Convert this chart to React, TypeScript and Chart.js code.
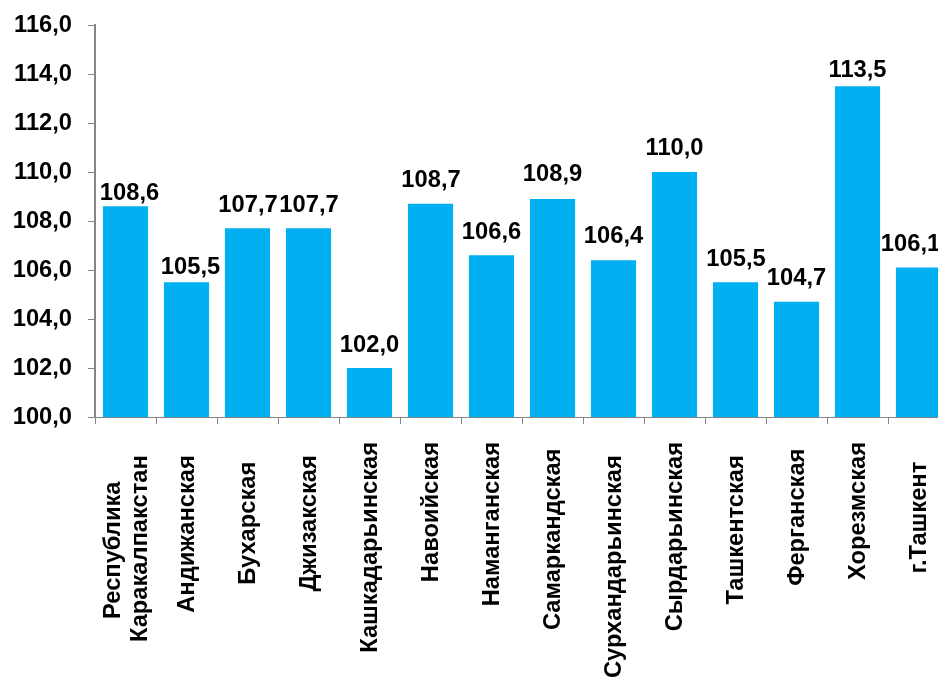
import React, { useEffect, useRef } from "react";
import { Chart, registerables } from "chart.js";

Chart.register(...registerables);

const categories: string[][] = [
  ["Республика", "Каракалпакстан"],
  ["Андижанская"],
  ["Бухарская"],
  ["Джизакская"],
  ["Кашкадарьинская"],
  ["Навоийская"],
  ["Наманганская"],
  ["Самаркандская"],
  ["Сурхандарьинская"],
  ["Сырдарьинская"],
  ["Ташкентская"],
  ["Ферганская"],
  ["Хорезмская"],
  ["г.Ташкент"],
];
const values = [108.6, 105.5, 107.7, 107.7, 102.0, 108.7, 106.6, 108.9, 106.4, 110.0, 105.5, 104.7, 113.5, 106.1];
// The source labels carry trailing blanks, which push them away from the axis.
const labelIndent = [2, 2, 3, 2, 0, 0, 0, 1, 2, 0, 2, 1, 0, 3];
// Hand placement of the value labels in the source: offset from the bar's centre, gap above the bar.
const valueLabelDx = [4, 4, 0.5, 0.5, 0, 0.5, 0, 0, 0, 0, 0.5, 0, 0, -8];
const valueLabelGap = [6, 8, 16.5, 16.5, 16.5, 16.5, 16.5, 17.5, 17.5, 17.5, 16.5, 17, 9.5, 17];

const FONT = "'Liberation Sans', Arial, sans-serif";
const FONT_SIZE = 23.7;
const LINE_HEIGHT = 1.14;
const AXIS = "#868686";
const fmt = (v: number) => v.toFixed(1).replace(".", ",");

const labelsPlugin = {
  id: "valueLabels",
  afterDatasetsDraw(chart: any) {
    const ctx = chart.ctx;
    const meta = chart.getDatasetMeta(0);
    ctx.save();
    ctx.font = `bold ${FONT_SIZE}px ${FONT}`;
    ctx.fillStyle = "#000";
    ctx.textAlign = "center";
    ctx.textBaseline = "alphabetic";
    meta.data.forEach((bar: any, i: number) => {
      ctx.fillText(fmt(values[i]), bar.x + valueLabelDx[i], bar.y - valueLabelGap[i]);
    });
    ctx.restore();
  },
};

// Chart.js starts a rotated multi-line label at the tick; centre it on the tick instead.
function centreMultiLineLabels(scale: any) {
  if (scale.__centred) return;
  scale.__centred = true;
  const compute = scale._computeLabelItems;
  scale._computeLabelItems = function (area: any) {
    const items = compute.call(this, area);
    items.forEach((item: any) => {
      if (Array.isArray(item.label) && item.label.length > 1) {
        item.options.translation[0] -= ((item.label.length - 1) * FONT_SIZE * LINE_HEIGHT) / 2;
      }
    });
    return items;
  };
}

export default function App() {
  const ref = useRef<HTMLCanvasElement>(null);
  useEffect(() => {
    const chart = new Chart(ref.current!, {
      type: "bar",
      data: {
        labels: categories as any,
        datasets: [{ data: values, backgroundColor: "#00B0F0", barPercentage: 0.74, categoryPercentage: 1 }],
      },
      plugins: [labelsPlugin],
      options: {
        animation: false,
        responsive: false,
        layout: { padding: { top: 25, right: 0, bottom: 0, left: 0 } },
        plugins: { legend: { display: false }, tooltip: { enabled: false } },
        scales: {
          x: {
            afterFit: (s: any) => {
              s.height = 261;
              s.paddingLeft = 0;
              s.paddingRight = 0;
              centreMultiLineLabels(s);
            },
            grid: { drawOnChartArea: false, color: AXIS, tickLength: 7 },
            border: { color: AXIS },
            ticks: {
              autoSkip: false,
              maxRotation: 90,
              minRotation: 90,
              labelOffset: 1,
              color: "#000",
              font: { family: FONT, size: FONT_SIZE, weight: "bold", lineHeight: LINE_HEIGHT },
              padding: 18,
              callback: (_v: any, i: number) => {
                const lines = categories[i];
                const blanks = " ".repeat(labelIndent[i]);
                // The first line of the two-line label is centred over the second one.
                return lines.length > 1
                  ? [lines[0] + " ".repeat(labelIndent[i] + 4), lines[1] + blanks]
                  : lines[0] + blanks;
              },
            },
          },
          y: {
            min: 100,
            max: 116,
            afterFit: (s: any) => {
              s.width = 95;
              s.paddingTop = 0;
              s.paddingBottom = 0;
            },
            grid: { drawOnChartArea: false, color: AXIS, tickLength: 7 },
            border: { color: AXIS, width: 2 },
            ticks: {
              stepSize: 2,
              color: "#000",
              padding: 16,
              font: { family: FONT, size: FONT_SIZE, weight: "bold" },
              callback: (v: any) => fmt(Number(v)),
            },
          },
        },
      },
    });
    return () => chart.destroy();
  }, []);
  return (
    <div style={{ position: "absolute", left: 0, top: 0, width: 938, height: 678, overflow: "hidden" }}>
      <canvas ref={ref} width={949} height={678} style={{ display: "block", width: 949, height: 678 }} />
    </div>
  );
}
